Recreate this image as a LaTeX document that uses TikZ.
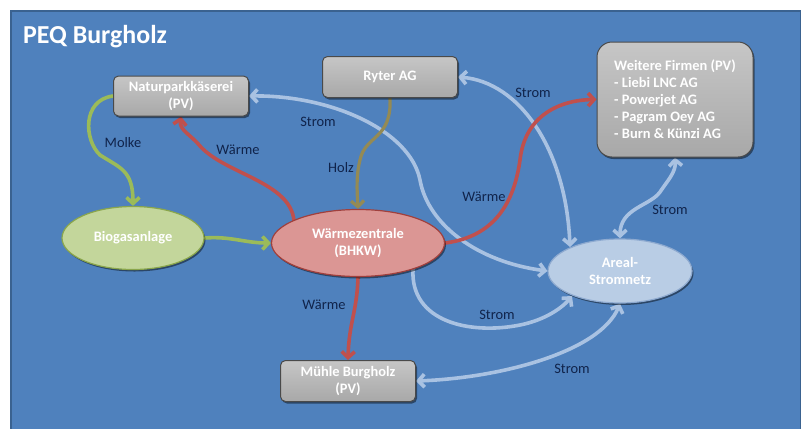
\documentclass[tikz,border=0pt]{standalone}
\usepackage{fontspec}
\setmainfont{Carlito}
\usetikzlibrary{arrows.meta,shadows,shapes.geometric}
\definecolor{panel}{HTML}{4F81BD}
\definecolor{panelline}{HTML}{3A6290}
\definecolor{boxtop}{HTML}{C6C6C6}
\definecolor{boxbot}{HTML}{A8A8A8}
\definecolor{boxline}{HTML}{4A4A4A}
\definecolor{greenfill}{HTML}{C3D69B}
\definecolor{greenline}{HTML}{8AA64C}
\definecolor{redfill}{HTML}{DB9694}
\definecolor{redline}{HTML}{A0403D}
\definecolor{bluefill}{HTML}{B9CDE5}
\definecolor{blueline}{HTML}{8EAAD0}
\definecolor{stromc}{HTML}{A9C2E2}
\definecolor{waermec}{HTML}{C0504D}
\definecolor{molkec}{HTML}{9BBB59}
\definecolor{holzc}{HTML}{948A54}
\definecolor{labeltext}{HTML}{10234A}
\pgfdeclarelayer{bg}
\pgfdeclarelayer{arr}
\pgfsetlayers{bg,arr,main}
\begin{document}
\begin{tikzpicture}[x=1bp,y=-1bp,
  shade/.style={drop shadow={shadow xshift=1.5bp,shadow yshift=-2bp,opacity=0.45,fill=black}},
  box/.style={rectangle, rounded corners=5bp, top color=boxtop, bottom color=boxbot, draw=boxline, line width=1bp,
    text=white, font=\bfseries\fontsize{14.5}{17}\selectfont, align=center, inner sep=0pt, shade},
  ell/.style={ellipse, line width=1.2bp, text=white, font=\bfseries\fontsize{14.5}{17}\selectfont,
    align=center, inner sep=0pt, shade},
  flow/.style={line width=3.6bp, line cap=round, -{Straight Barb[length=6bp,width=13bp]}},
  both/.style={line width=3.6bp, line cap=round, {Straight Barb[length=6bp,width=13bp]}-{Straight Barb[length=6bp,width=13bp]}},
  lbl/.style={text=labeltext, font=\fontsize{14.5}{17}\selectfont, inner sep=0pt},
  title/.style={text=white, font=\bfseries\fontsize{26}{30}\selectfont, inner sep=0pt}
]
\useasboundingbox (0,0) rectangle (802,428);
\begin{pgfonlayer}{bg}
  \fill[white] (0,0) rectangle (802,428);
  \draw[fill=panel, draw=panelline, line width=1.5bp] (11,11) rectangle (800.5,445);
\end{pgfonlayer}

\node[title, anchor=base west] (title) at (23,43) {PEQ Burgholz};

\node[box, minimum width=135bp, minimum height=40bp] (nat) at (181,96) {Naturparkkäserei\\(PV)};
\node[box, minimum width=135bp, minimum height=41bp] (ryter) at (390,77) {Ryter AG};
\node[box, rounded corners=15bp, minimum width=156bp, minimum height=115bp, align=left] (weit) at (675,99.5)
  {Weitere Firmen (PV)\\- Liebi LNC AG\\- Powerjet AG\\- Pagram Oey AG\\- Burn \& Künzi AG};
\node[ell, fill=greenfill, draw=greenline, minimum width=142bp, minimum height=63bp] (bio) at (133,238) {Biogasanlage};
\node[ell, fill=redfill, draw=redline, minimum width=173bp, minimum height=67bp] (wz) at (358,243) {Wärmezentrale\\(BHKW)};
\node[ell, fill=bluefill, draw=blueline, minimum width=144bp, minimum height=64bp] (areal) at (620,271) {Areal-\\Stromnetz};
\node[box, minimum width=135bp, minimum height=41bp] (muehle) at (348,381) {Mühle Burgholz\\(PV)};

\coordinate (arealA) at (570,247);
\coordinate (arealB) at (572,296);
\coordinate (wzSE) at (413,269);
\coordinate (wzNW) at (294,221);

\begin{pgfonlayer}{arr}
  % Strom (light blue)
  \draw[both, stromc] (nat.east) .. controls (330,95) and (410,130) .. (420,180)
     .. controls (428,225) and (478,262) .. (areal.west);
  \draw[both, stromc] (ryter.east) .. controls (520,82) and (566,150) .. (arealA);
  \draw[flow, stromc] (wzSE) .. controls (410,322) and (470,335) .. (520,325)
     .. controls (545,320) and (562,308) .. (arealB);
  \draw[both, stromc] (muehle.east) .. controls (500,378) and (600,352) .. (areal.south);
  \draw[both, stromc] (areal.north) .. controls (620,208) and (650,206) .. (660,192)
     .. controls (668,180) and (676,172) .. (weit.south);
  % Waerme (red)
  \draw[flow, waermec] (wzNW) .. controls (291,182) and (225,174) .. (200,146)
     .. controls (190,134) and (179,130) .. (nat.south);
  \draw[flow, waermec] (wz.east) .. controls (500,236) and (515,195) .. (520,160)
     .. controls (525,115) and (560,100) .. (weit.west);
  \draw[flow, waermec] (wz.south) .. controls (357,312) and (349,322) .. (muehle.north);
  % Molke, Biogas (green)
  \draw[flow, molkec] (nat.west) .. controls (82,100) and (84,140) .. (100,155)
     .. controls (120,168) and (133,170) .. (bio.north);
  \draw[flow, molkec] (bio.east) .. controls (230,236) and (245,243) .. (wz.west);
  % Holz (olive)
  \draw[flow, holzc, line width=3.2bp] (ryter.south) .. controls (392,140) and (365,135) .. (360,160)
     .. controls (356,176) and (357,190) .. (wz.north);
\end{pgfonlayer}

\node[lbl] (l1) at (123,143) {Molke};
\node[lbl] (l2) at (238,150) {Wärme};
\node[lbl] (l3) at (318,122) {Strom};
\node[lbl] (l4) at (341,168) {Holz};
\node[lbl] (l5) at (533,93) {Strom};
\node[lbl] (l6) at (484,197) {Wärme};
\node[lbl] (l7) at (670,210) {Strom};
\node[lbl] (l8) at (324,305) {Wärme};
\node[lbl] (l9) at (497,315) {Strom};
\node[lbl] (l10) at (572,369) {Strom};
\end{tikzpicture}
\end{document}
